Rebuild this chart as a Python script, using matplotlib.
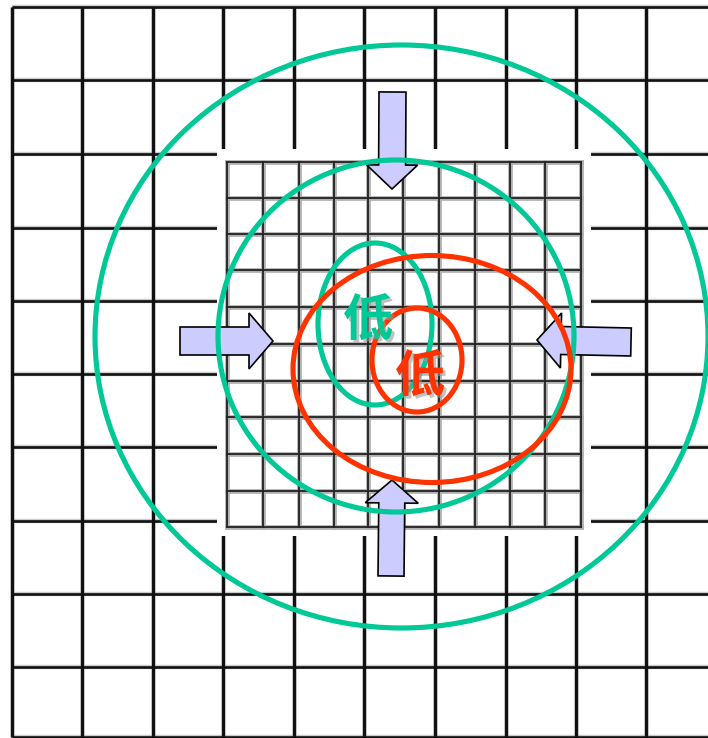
import matplotlib
matplotlib.use("Agg")
import matplotlib.pyplot as plt
from matplotlib.patches import Ellipse, Rectangle, FancyArrow
import matplotlib.patheffects as pe

# ---- data (pixel coordinates of the diagram) ----
outer_vlines = [12, 82, 153, 223, 294, 364, 435, 506, 576, 646]
outer_hlines = [7, 80, 154, 228, 301, 374, 447, 521, 594, 667, 737]

inner_box = (217, 149, 591, 536)          # white patch x0, y0, x1, y1
inner_vlines = [227, 263, 299, 334, 368, 403, 439, 475, 510, 545, 581]
inner_hlines = [162, 198, 234, 270, 307, 344, 381, 417, 454, 491, 527]

# ellipses: (cx, cy, width, height)
green_ellipses = [(401.5, 336.5, 613, 583),
                  (396, 336, 356, 352),
                  (375, 324, 114, 162)]
red_ellipses = [(432, 369, 278, 227),
                (417, 360, 90, 104)]

# arrows: (tail_x, tail_y, tip_x, tip_y, shaft_w, head_w, head_len)
arrows = [(392.5, 92, 392, 189, 27, 51, 24),
          (180, 341, 273, 341, 28, 56, 24),
          (631, 342, 537, 340, 28, 55, 24),
          (391, 576, 392, 480, 26, 53, 23)]

labels = [("低", 368, 321, "#00C896"),
          ("低", 420, 377, "#FF3300")]

GREEN = "#00C896"
RED = "#FF3300"
ARROW_FC = "#CCCCFF"

W, H = 708, 738
fig = plt.figure(figsize=(W / 100, H / 100), dpi=100)
ax = fig.add_axes([0, 0, 1, 1])
ax.set_xlim(0, W)
ax.set_ylim(H, 0)
ax.axis("off")

# outer grid
for x in outer_vlines:
    ax.plot([x, x], [outer_hlines[0], outer_hlines[-1]], color="#999999", lw=3.6, alpha=0.5, zorder=1, solid_capstyle="butt")
    ax.plot([x, x], [outer_hlines[0], outer_hlines[-1]], color="#111111", lw=2.2, zorder=1.1, solid_capstyle="butt")
for y in outer_hlines:
    ax.plot([outer_vlines[0], W], [y, y], color="#999999", lw=3.2, alpha=0.5, zorder=1, solid_capstyle="butt")
    ax.plot([outer_vlines[0], W], [y, y], color="#111111", lw=1.9, zorder=1.1, solid_capstyle="butt")

# white patch
x0, y0, x1, y1 = inner_box
ax.add_patch(Rectangle((x0, y0), x1 - x0, y1 - y0, facecolor="white", edgecolor="none", zorder=2))

# inner grid (blurred look)
for x in inner_vlines:
    ax.plot([x, x], [inner_hlines[0], inner_hlines[-1]], color="#b0b0b0", lw=3.4, zorder=3)
    ax.plot([x, x], [inner_hlines[0], inner_hlines[-1]], color="#222222", lw=1.3, zorder=3.1)
for y in inner_hlines:
    ax.plot([inner_vlines[0], inner_vlines[-1]], [y, y], color="#b0b0b0", lw=3.4, zorder=3)
    ax.plot([inner_vlines[0], inner_vlines[-1]], [y, y], color="#222222", lw=1.3, zorder=3.1)

# arrows
for tx, ty, hx, hy, sw, hw, hl in arrows:
    ax.add_patch(FancyArrow(tx, ty, hx - tx, hy - ty, width=sw, head_width=hw,
                            head_length=hl, length_includes_head=True,
                            facecolor=ARROW_FC, edgecolor="black", lw=1.2, zorder=4))

# ellipses
for cx, cy, w, h in green_ellipses:
    ax.add_patch(Ellipse((cx, cy), w, h, facecolor="none", edgecolor=GREEN, lw=3.7, zorder=5))
for cx, cy, w, h in red_ellipses:
    ax.add_patch(Ellipse((cx, cy), w, h, facecolor="none", edgecolor=RED, lw=3.7, zorder=5.5))

# labels
for txt, x, y, c in labels:
    ax.text(x, y, txt, color=c, fontsize=36, fontweight="bold",
            family=["Noto Sans CJK SC", "DejaVu Sans"], ha="center", va="center", zorder=6,
            path_effects=[pe.withSimplePatchShadow(offset=(2, -2), shadow_rgbFace="#999999", alpha=0.6)])

fig.savefig("out.png", dpi=100)
